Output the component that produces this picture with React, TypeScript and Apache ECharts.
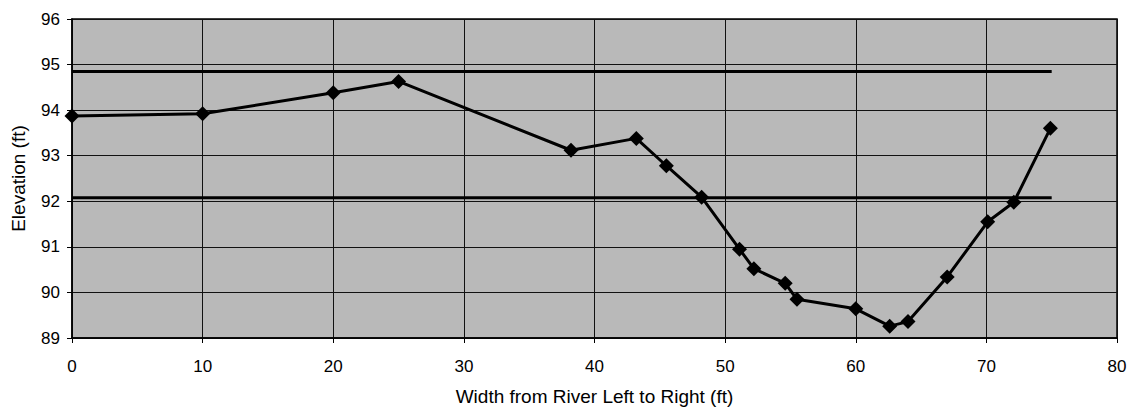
import React, { useEffect, useRef } from "react";
import * as echarts from "echarts";

const widths = [0, 10, 20, 25, 38.2, 43.2, 45.5, 48.2, 51.1, 52.2, 54.6, 55.5, 60.0, 62.6, 64.0, 67.0, 70.1, 72.1, 74.9];
const elevations = [93.87, 93.92, 94.38, 94.63, 93.12, 93.38, 92.78, 92.09, 90.95, 90.52, 90.2, 89.85, 89.64, 89.26, 89.36, 90.34, 91.55, 91.98, 93.6];
const upperLevelX = [0, 75];
const upperLevelY = [94.85, 94.85];
const lowerLevelX = [0, 75];
const lowerLevelY = [92.08, 92.08];
const xTicks = [0, 80, 10];
const yTicks = [89, 96, 1];

export default function App() {
  const ref = useRef<HTMLDivElement>(null);
  useEffect(() => {
    if (!ref.current) return;
    const chart = echarts.init(ref.current, undefined, { renderer: "svg" });
    const font = "Liberation Sans, Arial, sans-serif";
    chart.setOption({
      animation: false,
      backgroundColor: "#ffffff",
      grid: {
        left: 72,
        right: 18,
        top: 19,
        bottom: 76,
        show: true,
        backgroundColor: "#b9b9b9",
        borderColor: "#000",
        borderWidth: 1.5,
      },
      xAxis: {
        type: "value",
        min: xTicks[0],
        max: xTicks[1],
        interval: xTicks[2],
        name: "Width from River Left to Right (ft)",
        nameLocation: "middle",
        nameGap: 49,
        nameTextStyle: { fontFamily: font, fontSize: 19, color: "#000" },
        axisLine: { show: true, lineStyle: { color: "#000", width: 1.5 } },
        axisTick: { show: true, length: 5, lineStyle: { color: "#000" } },
        axisLabel: { fontFamily: font, fontSize: 17, color: "#000", margin: 20 },
        splitLine: { show: true, lineStyle: { color: "#111", width: 1 } },
      },
      yAxis: {
        type: "value",
        min: yTicks[0],
        max: yTicks[1],
        interval: yTicks[2],
        name: "Elevation (ft)",
        nameLocation: "middle",
        nameGap: 44,
        nameTextStyle: { fontFamily: font, fontSize: 19, color: "#000" },
        axisLine: { show: true, lineStyle: { color: "#000", width: 1.5 } },
        axisTick: { show: true, length: 5, lineStyle: { color: "#000" } },
        axisLabel: { fontFamily: font, fontSize: 17, color: "#000", margin: 12 },
        splitLine: { show: true, lineStyle: { color: "#111", width: 1 } },
      },
      series: [
        {
          type: "line",
          data: upperLevelX.map((x, i) => [x, upperLevelY[i]]),
          showSymbol: false,
          symbol: "none",
          lineStyle: { color: "#000", width: 3 },
        },
        {
          type: "line",
          data: lowerLevelX.map((x, i) => [x, lowerLevelY[i]]),
          showSymbol: false,
          symbol: "none",
          lineStyle: { color: "#000", width: 3 },
        },
        {
          type: "line",
          data: widths.map((x, i) => [x, elevations[i]]),
          symbol: "diamond",
          symbolSize: 15,
          itemStyle: { color: "#000" },
          lineStyle: { color: "#000", width: 3 },
        },
      ],
    });
    return () => chart.dispose();
  }, []);
  return (
    <div
      ref={ref}
      style={{ position: "fixed", left: 0, top: 0, width: 1135, height: 414, background: "#fff" }}
    />
  );
}
